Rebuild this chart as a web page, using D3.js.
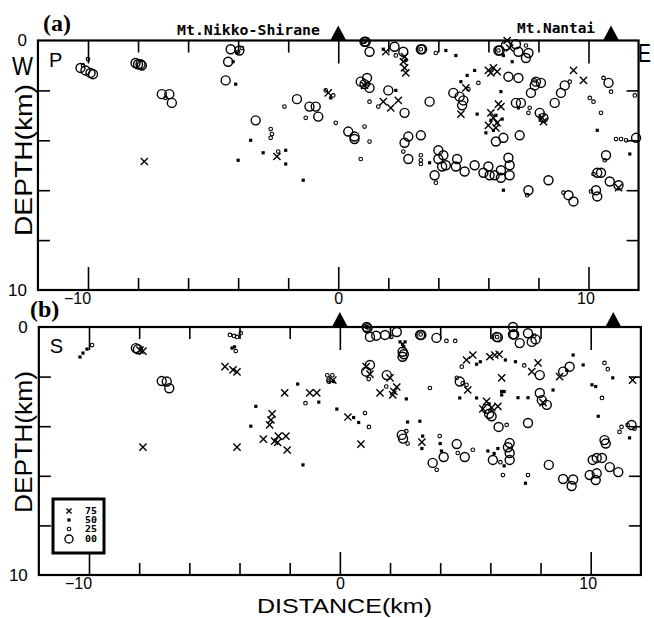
<!DOCTYPE html>
<html><head><meta charset="utf-8">
<script src="https://cdn.jsdelivr.net/npm/d3@7"></script>
<style>body{margin:0;background:#fff}svg{display:block}</style>
</head><body><svg id="c" width="654" height="618"></svg>
<script>
// ---------- data ----------
const xTicksAll = [-10,-8,-6,-4,-2,0,2,4,6,8,10];
const xTicksMajor = [-10,0,10];
const yTicksMinor = [2,4,6,8];
const yTickLabels = [0,10];
const legendLabels = ["75","50","25","00"];
const legendClasses = ["q75","q50","q25","q00"];
const volcanoNames = ["Mt.Nikko-Shirane","Mt.Nantai"];
const volcanoX = [0, 10.9];
const panelTags = ["(a)","(b)"];
const panelPhases = ["P","S"];

// panel (a): [distance km, depth km]
const aQ00 = [[-10.3,1.1],[-10.1,1.2],[-9.9,1.3],[-9.8,1.35],[-8.1,0.9],[-8.0,0.95],[-7.9,0.95],[-7.85,1.0],
[-7.05,2.15],[-6.75,2.15],[-6.65,2.5],[-4.3,0.35],[-3.95,0.4],[-4.4,0.85],[-4.5,1.6],
[-3.3,3.2],[-1.65,2.35],[-1.15,2.65],[-0.9,2.65],[-0.8,3.05],
[1.05,0.05],[1.1,0.05],[1.25,0.45],[2.25,0.25],[2.6,0.45],[3.3,0.35],[3.35,0.35],[6.4,0.4],[6.45,0.4],
[0.9,1.65],[1.15,1.5],[1.25,1.9],[1.05,1.75],[2.0,2.0],[2.65,2.9],[3.65,2.45],
[4.6,2.1],[4.85,2.25],[5.0,2.4],[4.95,2.6],[6.8,1.45],[7.2,1.5],[7.1,2.5],[7.3,2.5],
[7.85,1.8],[8.1,1.7],[7.7,2.1],[7.9,1.65],[8.05,2.9],[8.2,3.1],[8.65,2.5],[8.9,2.1],[9.05,1.8],
[10.8,1.7],[11.9,3.9],[10.7,4.6],[10.5,5.3],[10.35,5.3],[10.85,5.65],[11.2,5.8],[10.3,6.0],[10.35,6.25],
[9.2,6.2],[9.4,6.45],[8.4,5.6],[7.6,6.0],
[5.8,5.3],[6.0,5.05],[6.05,5.4],[6.25,5.4],[6.5,5.5],[6.5,5.2],[6.8,4.7],[6.85,5.0],[6.85,5.4],
[5.45,5.0],[5.05,5.25],[4.7,5.05],[4.75,4.75],[4.0,4.4],[4.0,4.75],[4.15,5.05],[3.85,5.4],[4.3,5.0],[4.2,4.6],
[2.8,3.85],[2.65,4.1],[2.8,4.75],[3.3,3.8],[0.4,3.65],[0.65,3.85],[0.65,3.95],
[6.7,0.2],[7.1,0.15],[7.2,0.45],[7.6,0.5],[7.5,0.7],[6.3,4.05],[6.6,3.9],[7.25,3.8]];
const aQ25 = [[-10.0,0.75],[-10.2,1.0],[-6.9,2.3],[-4.0,0.45],[-3.85,0.3],
[-2.7,3.55],[-2.65,3.75],[-2.7,3.9],[-2.4,4.45],[-2.15,2.65],[-1.3,3.1],[-0.1,3.3],[-0.5,2.0],[-0.2,2.2],
[1.05,0.05],[1.1,0.0],[1.0,0.05],[3.3,0.35],[6.4,0.4],
[2.3,0.6],[3.9,0.5],[5.2,1.95],[5.6,1.7],[1.2,1.75],[1.05,3.45],[1.25,4.05],[0.9,4.75],[1.25,2.45],[1.6,2.65],
[3.3,4.6],[3.3,4.8],[3.3,4.95],[2.6,4.45],[3.9,5.7],[7.85,1.6],[7.65,2.7],[9.25,1.65],
[10.05,2.3],[10.2,2.45],[10.6,1.5],[10.9,2.05],[11.85,2.2],[10.5,2.9],
[11.3,3.95],[11.5,4.0],[11.1,3.95],[10.65,4.8],[10.2,5.35],[10.1,6.05],[7.55,6.2],[9.0,6.1],[7.6,2.9],[7.5,0.2]];
const aQ50 = [[-4.1,1.75],[-4.2,0.85],[-4.05,0.5],[-3.5,4.0],[-4.0,4.8],[-3.0,4.5],[-2.1,4.4],[-2.1,4.95],[-1.4,5.6],[-0.3,2.3],
[1.8,0.35],[2.7,0.8],[4.3,0.4],[4.7,0.6],[5.45,1.2],[5.15,1.4],[4.9,1.65],[5.55,2.95],[6.5,2.05],[2.3,2.0],[6.95,0.85],[6.6,0.6],[7.2,2.7],
[10.35,3.6],[11.65,4.55],[6.6,6.0],[3.65,4.9],
[6.3,3.0],[6.35,3.3],[6.2,3.6],[5.9,3.7],[6.55,3.15],[6.1,3.2]];
const aQ75 = [[-7.75,4.85],[-2.45,4.65],[-0.4,2.1],[1.9,0.45],[2.65,1.1],[2.6,0.85],[2.7,1.3],
[1.8,2.45],[2.1,2.7],[2.4,2.4],[1.05,1.8],[4.9,2.95],[5.1,1.9],
[6.0,1.2],[6.2,1.1],[6.35,1.25],[6.1,1.3],[6.5,2.65],[6.4,2.55],
[6.1,2.9],[6.2,3.1],[6.35,3.3],[6.0,3.4],[6.3,3.5],
[8.2,3.25],[8.15,3.1],[9.4,1.2],[9.8,1.6],[11.2,5.9],[6.75,0.0],[6.85,0.3],[2.65,0.65]];

// panel (b)
const bQ00 = [[-8.13,0.85],[-8.05,0.9],[-7.1,2.18],[-6.9,2.2],[-6.8,2.47],
[1.07,0.0],[1.1,0.05],[1.2,0.4],[1.45,0.35],[1.8,0.32],[2.27,0.2],[2.5,1.0],[2.5,1.2],[2.55,1.1],
[3.2,0.32],[3.25,0.32],[3.85,0.44],[6.25,0.4],[6.3,0.42],
[6.9,0.0],[6.95,0.3],[7.17,0.65],[7.5,0.25],[7.65,0.6],[7.8,0.5],[6.9,0.3],
[1.2,1.53],[1.05,1.8],[1.87,1.94],[4.78,2.2],[5.85,3.3],[5.95,3.5],[6.05,3.6],
[6.33,4.03],[7.5,3.87],[7.97,1.94],[8.9,1.8],[9.16,1.6],[7.97,2.66],[8.05,2.95],[8.25,3.14],
[11.63,3.95],[10.55,4.56],[10.6,4.7],[10.08,5.36],[10.24,5.28],[10.45,5.28],[10.76,5.65],[11.1,5.85],
[9.96,5.97],[10.2,6.17],[10.24,5.9],[8.9,6.13],[9.24,6.41],[9.3,6.15],[8.33,5.56],
[6.77,4.68],[6.7,4.85],[6.77,5.08],[6.77,5.36],[6.1,5.36],[4.98,5.24],[4.66,4.72],[4.14,5.24],[3.7,5.48],
[2.47,4.35],[2.52,4.5]];
const bQ25 = [[-9.88,0.73],[-4.38,0.32],[-4.22,0.36],[-4.1,0.4],[-3.95,0.25],[-4.15,0.97],
[-1.37,3.07],[-0.5,1.95],[-0.45,2.13],[-0.3,1.95],[-0.45,2.2],
[1.07,0.0],[1.12,0.02],[3.22,0.3],[6.27,0.4],
[2.05,0.4],[4.25,0.56],[4.6,0.56],[7.75,0.35],[4.66,2.05],[4.9,2.27],[5.05,2.33],[4.86,1.6],[7.35,1.55],
[1.15,2.1],[1.85,2.4],[3.59,2.46],[1.0,3.47],[1.16,4.03],[3.98,4.4],[3.86,5.76],[2.7,4.7],[2.65,4.2],[4.7,5.08],[5.3,4.95],
[6.65,3.95],[6.5,5.97],[7.5,5.97],[6.4,5.45],[10.45,2.86],[10.55,1.45],[10.68,1.7],
[11.23,4.03],[11.47,3.95],[11.15,4.23],[11.75,4.1]];
const bQ50 = [[-10.08,0.89],[-10.24,1.05],[-10.36,1.21],[-4.2,0.8],[-4.3,0.85],
[-3.35,3.2],[-3.55,4.0],[-1.47,5.56],[-1.68,2.3],[-0.84,3.03],[-0.12,3.31],[-0.25,2.2],
[2.4,0.6],[2.6,0.6],[2.55,0.8],[2.5,0.7],[5.45,1.5],[5.6,1.4],[6.6,1.33],[7.0,1.4],
[4.78,2.86],[5.45,2.86],[6.45,2.74],[6.45,2.6],[6.55,2.6],[5.95,3.1],
[7.1,2.85],[7.5,2.85],[8.5,2.54],[9.05,1.75],[9.3,1.13],[9.7,1.53],
[10.05,2.33],[10.2,2.4],[10.3,3.6],[10.88,2.05],[11.55,4.47],
[2.7,3.83],[3.19,3.8],[3.27,4.9],[3.3,4.4],[4.0,4.7],[4.05,5.0],[0.55,3.65],[0.75,3.85],[2.65,2.9],
[5.9,5.0],[6.15,5.1],[6.3,4.9],[7.4,6.3],[6.55,5.6]];
const bQ75 = [[-7.97,0.93],[-7.85,0.97],[-4.58,1.6],[-4.26,1.73],[-4.1,1.81],[-7.85,4.84],[-4.1,4.84],
[-2.7,3.5],[-2.75,3.75],[-2.8,3.95],[-3.05,4.52],[-2.6,4.6],[-2.48,4.65],[-2.15,4.4],[-2.1,4.96],[-2.45,4.4],
[-2.2,2.66],[-1.2,2.66],[-0.92,2.66],[-0.28,2.14],[0.32,3.63],[0.84,4.72],
[1.05,1.6],[1.2,1.9],[2.0,2.05],[2.27,2.42],[2.15,2.6],[1.6,2.66],[2.11,2.74],[3.27,4.64],
[5.05,1.33],[5.3,1.13],[5.98,1.2],[6.18,1.13],[6.35,1.1],[6.45,2.05],[5.1,2.54],
[5.85,3.0],[6.05,3.25],[6.3,3.2],[5.7,3.3],[7.65,1.8],[7.9,1.45],[8.1,3.05],[8.76,2.0],[11.67,2.14]];

// ---------- drawing ----------
const svg = d3.select("#c");
const sans = "'Liberation Sans', Arial, Helvetica, sans-serif";

function drawMarkers(g, data, cls, x, y, scale) {
  const k = scale || 1;
  const sel = g.append("g").attr("class", cls);
  if (cls === "q00") {
    sel.selectAll("circle").data(data).join("circle")
      .attr("cx", d => x(d[0])).attr("cy", d => y(d[1])).attr("r", 4.5 * k)
      .attr("fill", "none").attr("stroke", "#000").attr("stroke-width", 1.4);
  } else if (cls === "q25") {
    sel.selectAll("circle").data(data).join("circle")
      .attr("cx", d => x(d[0])).attr("cy", d => y(d[1])).attr("r", 1.8)
      .attr("fill", "none").attr("stroke", "#000").attr("stroke-width", 1.1);
  } else if (cls === "q50") {
    sel.selectAll("rect").data(data).join("rect")
      .attr("x", d => x(d[0]) - 1.6).attr("y", d => y(d[1]) - 1.6)
      .attr("width", 3.2).attr("height", 3.2).attr("fill", "#000");
  } else {
    sel.selectAll("path").data(data).join("path")
      .attr("d", d => { const cx = x(d[0]), cy = y(d[1]), s = 3.6 * k;
        return `M${cx-s},${cy-s}L${cx+s},${cy+s}M${cx-s},${cy+s}L${cx+s},${cy-s}`; })
      .attr("stroke", "#000").attr("stroke-width", 1.4).attr("fill", "none");
  }
}

const panels = [
  { xr: [88, 588.5], yr: [40.5, 290], data: [aQ00, aQ25, aQ50, aQ75], idx: 0 },
  { xr: [89, 590.7], yr: [327, 575], data: [bQ00, bQ25, bQ50, bQ75], idx: 1 }
];

panels.forEach(p => {
  const x = d3.scaleLinear().domain([-10, 10]).range(p.xr);
  const y = d3.scaleLinear().domain([0, 10]).range(p.yr);
  const x0 = x(-12), x1 = x(12), y0 = y(0), y1 = y(10);
  const g = svg.append("g");

  const minor = xTicksAll.filter(v => !xTicksMajor.includes(v));
  const styleAxis = a => { a.select(".domain").remove(); a.selectAll("line").attr("stroke-width", 1.6); };
  g.append("g").attr("transform", `translate(0,${y1})`)
    .call(d3.axisBottom(x).tickValues(minor).tickSize(-12).tickFormat("")).call(styleAxis);
  g.append("g").attr("transform", `translate(0,${y1})`)
    .call(d3.axisBottom(x).tickValues(xTicksMajor).tickSize(-23).tickPadding(3))
    .call(styleAxis)
    .call(a => a.selectAll("text").attr("font-size", 16).attr("font-family", sans).attr("fill", "#000")
      .attr("dx", d => d < 0 ? -11 : (d > 0 ? -3 : 0)));
  g.append("g").attr("transform", `translate(0,${y0})`)
    .call(d3.axisTop(x).tickValues(minor).tickSize(-12).tickFormat("")).call(styleAxis);
  g.append("g").attr("transform", `translate(0,${y0})`)
    .call(d3.axisTop(x).tickValues(xTicksMajor).tickSize(-23).tickFormat("")).call(styleAxis);
  g.append("g").attr("transform", `translate(${x0},0)`)
    .call(d3.axisLeft(y).tickValues(yTicksMinor).tickSize(-12).tickFormat("")).call(styleAxis);
  g.append("g").attr("transform", `translate(${x1},0)`)
    .call(d3.axisRight(y).tickValues(yTicksMinor).tickSize(-12).tickFormat("")).call(styleAxis);
  g.append("g").attr("transform", `translate(${x0},0)`)
    .call(d3.axisLeft(y).tickValues(yTickLabels).tickSize(0).tickPadding(11))
    .call(styleAxis)
    .call(a => a.selectAll("text").attr("font-size", 17).attr("font-family", sans).attr("fill", "#000"));

  g.append("rect").attr("x", x0).attr("y", y0).attr("width", x1 - x0).attr("height", y1 - y0)
    .attr("fill", "none").attr("stroke", "#000").attr("stroke-width", 2.2);

  g.selectAll("path.tri").data(volcanoX).join("path").attr("class", "tri")
    .attr("d", v => `M${x(v)-8},${y0}L${x(v)},${y0-15}L${x(v)+8},${y0}Z`).attr("fill", "#000");

  legendClasses.slice().reverse().forEach((cls, i) => drawMarkers(g, p.data[i], cls, x, y));

  g.append("text").attr("x", p.idx === 0 ? 43 : 30).attr("y", p.idx === 0 ? 31 : 317)
    .attr("font-family", "'Liberation Serif','Times New Roman',serif").attr("font-weight", "bold")
    .attr("font-size", 24).text(panelTags[p.idx]);
  g.append("text").attr("x", x0 + 11).attr("y", y0 + 26).attr("font-family", sans)
    .attr("font-size", 20).text(panelPhases[p.idx]);
  g.append("text")
    .attr("transform", `translate(32,${p.idx === 0 ? 160 : 442}) rotate(-90)`)
    .attr("text-anchor", "middle").attr("font-family", sans).attr("font-size", 24)
    .attr("textLength", p.idx === 0 ? 152 : 142).attr("lengthAdjust", "spacingAndGlyphs")
    .text("DEPTH(km)");

  if (p.idx === 0) {
    g.append("text").attr("x", 12).attr("y", 75).attr("font-family", sans).attr("font-size", 25)
      .attr("textLength", 21).attr("lengthAdjust", "spacingAndGlyphs").text("W");
    g.append("text").attr("x", 638).attr("y", 62).attr("font-family", sans).attr("font-size", 25)
      .attr("textLength", 13).attr("lengthAdjust", "spacingAndGlyphs").text("E");
    const lab = [{s: 177, w: 143, b: 35}, {s: 517, w: 78, b: 33}];
    volcanoNames.forEach((n, i) => g.append("text").attr("x", lab[i].s).attr("y", lab[i].b)
      .attr("font-family", "'DejaVu Sans Mono','Liberation Mono',monospace").attr("font-weight", "bold")
      .attr("font-size", 14).attr("textLength", lab[i].w).attr("lengthAdjust", "spacingAndGlyphs").text(n));
  } else {
    const lg = g.append("g");
    lg.append("rect").attr("x", 53).attr("y", 499).attr("width", 51).attr("height", 54)
      .attr("fill", "#fff").attr("stroke", "#000").attr("stroke-width", 3);
    const rowsY = [511, 520, 529, 539];
    legendClasses.forEach((cls, i) => {
      const xs = d3.scaleLinear().domain([0, 1]).range([69, 70]);
      const ys = d3.scaleLinear().domain([0, 1]).range([rowsY[i], rowsY[i] + 1]);
      drawMarkers(lg, [[0, 0]], cls, xs, ys, cls === "q75" ? 0.7 : 0.9);
      lg.append("text").attr("x", 91).attr("y", rowsY[i]).attr("dominant-baseline", "central")
        .attr("text-anchor", "middle").attr("font-family", "'DejaVu Sans Mono',monospace")
        .attr("font-weight", "bold").attr("font-size", 8).attr("textLength", 12)
        .attr("lengthAdjust", "spacingAndGlyphs").text(legendLabels[i]);
    });
    g.append("text").attr("x", 344.5).attr("y", 613).attr("text-anchor", "middle")
      .attr("font-family", sans).attr("font-size", 20).attr("textLength", 175)
      .attr("lengthAdjust", "spacingAndGlyphs").text("DISTANCE(km)");
  }
});
</script>
</body></html>
